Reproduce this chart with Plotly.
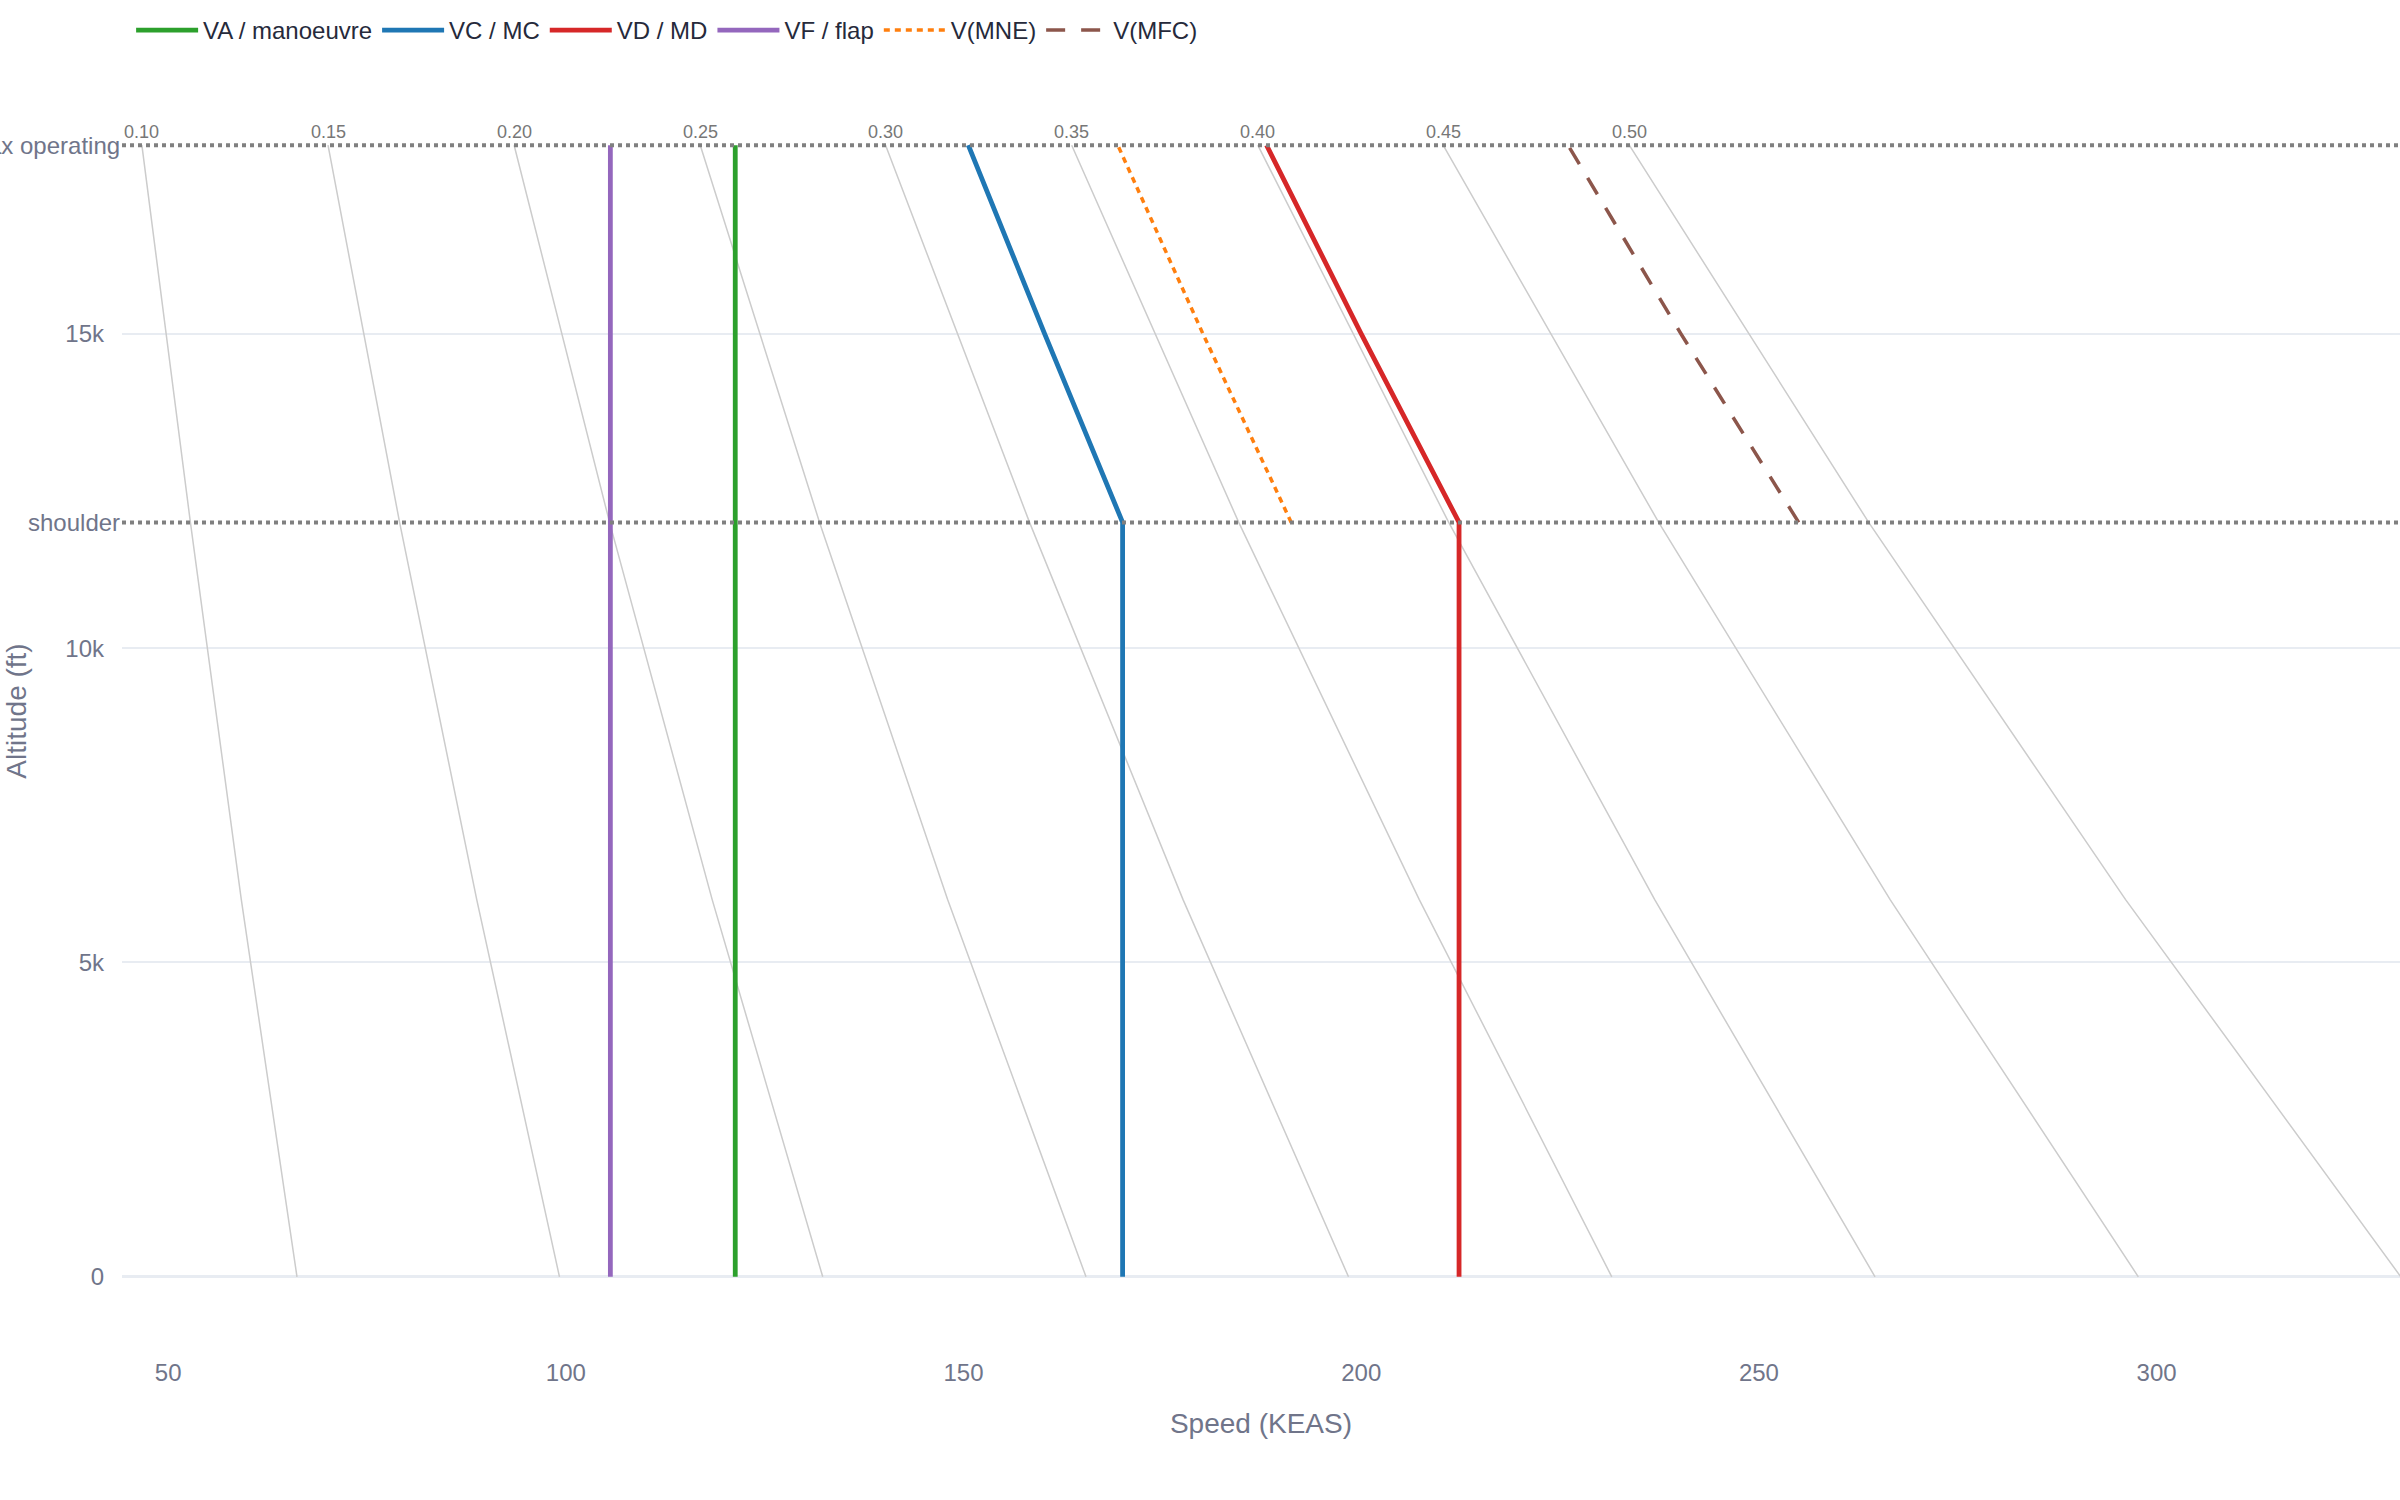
import plotly.graph_objects as go

# altitudes (ft) and limits
max_operating_alt = 18000
shoulder_alt = 12000

# iso-Mach reference lines, KEAS read at 0 / 6k / 12k / 18k ft
mach_alt = [0, 6000, 12000, 18000]
mach_numbers = [0.10, 0.15, 0.20, 0.25, 0.30, 0.35, 0.40, 0.45, 0.50]
mach_keas = [
    [66.2, 59.2, 52.8, 46.7],
    [99.2, 88.8, 79.1, 70.1],
    [132.3, 118.4, 105.5, 93.5],
    [165.4, 148.0, 131.9, 116.9],
    [198.4, 177.6, 158.3, 140.2],
    [231.5, 207.3, 184.6, 163.6],
    [264.6, 236.9, 211.0, 187.0],
    [297.7, 266.5, 237.4, 210.3],
    [330.7, 296.1, 263.8, 233.7],
]

# design speeds
va_alt = [0, 18000]
va_keas = [121.3, 121.3]
vf_alt = [0, 18000]
vf_keas = [105.6, 105.6]
vc_alt = [0, 12000, 15000, 18000]
vc_keas = [170.0, 170.0, 160.2, 150.6]
vd_alt = [0, 12000, 15000, 18000]
vd_keas = [212.3, 212.3, 200.0, 188.1]
vmne_alt = [12000, 15000, 18000]
vmne_keas = [191.2, 180.1, 169.4]
vmfc_alt = [12000, 15000, 18000]
vmfc_keas = [255.0, 240.2, 226.0]

tick_color = '#70758a'
font_family = 'Liberation Sans, Arial, Helvetica, sans-serif'

fig = go.Figure()

for m, keas in zip(mach_numbers, mach_keas):
    fig.add_trace(go.Scatter(
        x=keas, y=mach_alt, mode='lines',
        line=dict(color='#cccccc', width=1.5),
        showlegend=False, hoverinfo='skip'))
    fig.add_annotation(
        x=keas[-1], y=mach_alt[-1], text=f'{m:.2f}',
        showarrow=False, yanchor='bottom', yshift=1,
        font=dict(size=18, color='#777777'))

speeds = [
    ('VA / manoeuvre', va_keas, va_alt, '#2ca02c', 'solid'),
    ('VC / MC', vc_keas, vc_alt, '#1f77b4', 'solid'),
    ('VD / MD', vd_keas, vd_alt, '#d62728', 'solid'),
    ('VF / flap', vf_keas, vf_alt, '#9467bd', 'solid'),
    ('V(MNE)', vmne_keas, vmne_alt, '#ff7f0e', '6px,5px'),
    ('V(MFC)', vmfc_keas, vmfc_alt, '#8c564b', '19px,16px'),
]
for name, xs, ys, color, dash in speeds:
    width = 3.5 if dash != 'solid' else 4.8
    fig.add_trace(go.Scatter(
        x=xs, y=ys, mode='lines', name=name,
        line=dict(color=color, width=width, dash=dash)))

for alt, label in [(max_operating_alt, 'max operating'), (shoulder_alt, 'shoulder')]:
    fig.add_hline(
        y=alt, line=dict(color='#808080', width=4, dash='dot'),
        annotation_text=label, annotation_position='left',
        annotation_font=dict(size=24, color=tick_color))

fig.update_layout(
    template='plotly_white',
    width=2400,
    height=1500,
    font=dict(family=font_family, size=24, color='#262a3b'),
    margin=dict(l=122, r=0, t=66, b=144, autoexpand=False),
    legend=dict(orientation='h', x=0.004, xanchor='left', y=1.045, yanchor='top',
                font=dict(size=24, color='#262a3b'), itemwidth=62),
    xaxis=dict(
        title=dict(text='Speed (KEAS)', font=dict(size=28, color=tick_color),
                   standoff=28),
        range=[44.2, 330.6], dtick=50, showgrid=False, zeroline=False,
        tickfont=dict(size=24, color=tick_color)),
    yaxis=dict(
        title=dict(text='Altitude (ft)', font=dict(size=28, color=tick_color),
                   standoff=30),
        range=[-1260, 19260], tickvals=[0, 5000, 10000, 15000],
        ticktext=['0', '5k', '10k', '15k'],
        gridcolor='#e8ecf2', gridwidth=1.5,
        zeroline=True, zerolinecolor='#e8ecf2', zerolinewidth=3,
        ticklabelstandoff=17,
        tickfont=dict(size=24, color=tick_color)),
)

# drop the page's default body margin so the figure sits at the window corner
fig.write_html('out.html',
               config={'displayModeBar': False},
               post_script="document.body.style.margin='0';"
                           "document.body.style.overflow='hidden';")
